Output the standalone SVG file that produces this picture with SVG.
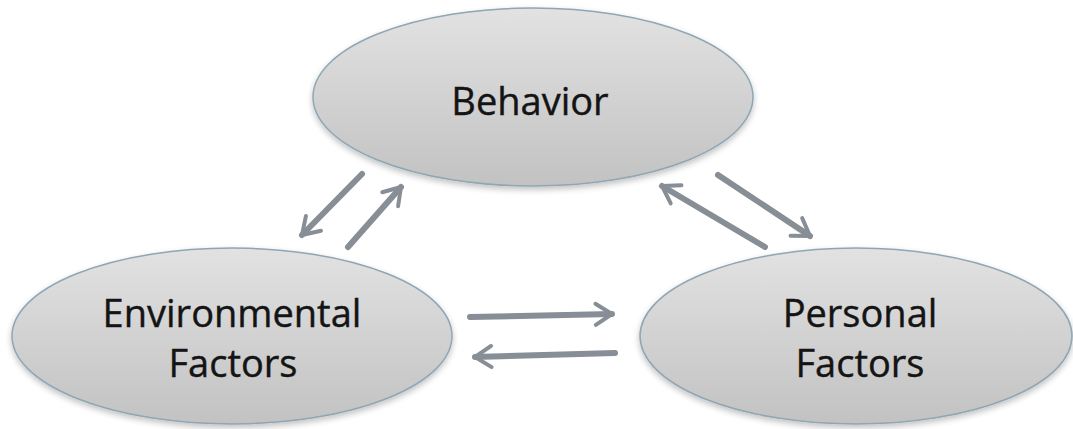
<svg xmlns="http://www.w3.org/2000/svg" width="1073" height="429" viewBox="0 0 1073 429">
  <style>
    .node { fill: url(#oval); stroke: #8fa6b4; stroke-width: 1.5; filter: url(#shade); }
    .label { font-family: "Open Sans", "Noto Sans", sans-serif; font-size: 38px; fill: #141414; text-anchor: middle; stroke: #141414; stroke-width: 0.4; }
    .link { stroke: #878e95; stroke-width: 6; fill: none; stroke-linecap: round; marker-end: url(#head); }
  </style>
  <defs>
    <linearGradient id="oval" x1="0" y1="0" x2="0" y2="1">
      <stop offset="0" stop-color="#e2e2e2"/>
      <stop offset="1" stop-color="#c2c2c2"/>
    </linearGradient>
    <filter id="shade" x="-10%" y="-10%" width="120%" height="130%">
      <feGaussianBlur in="SourceAlpha" stdDeviation="3"/>
      <feOffset dy="3" result="b"/>
      <feComponentTransfer><feFuncA type="linear" slope="0.25"/></feComponentTransfer>
      <feMerge><feMergeNode/><feMergeNode in="SourceGraphic"/></feMerge>
    </filter>
    <!-- open chevron head, sized in stroke widths -->
    <marker id="head" viewBox="0 0 10 10" refX="8" refY="5" markerWidth="4.4" markerHeight="4.4" orient="auto" markerUnits="strokeWidth">
      <path d="M1.8,1 L8,5 L1.8,9" fill="none" stroke="#878e95" stroke-width="1.5" stroke-linecap="round" stroke-linejoin="round"/>
    </marker>
  </defs>

  <g id="connectors">
    <line class="link" x1="362" y1="174" x2="302" y2="235"/>
    <line class="link" x1="348" y1="247" x2="401" y2="187"/>
    <line class="link" x1="765" y1="247" x2="662" y2="186"/>
    <line class="link" x1="718" y1="175" x2="810" y2="236"/>
    <line class="link" x1="470" y1="317" x2="612" y2="314"/>
    <line class="link" x1="615" y1="353" x2="475" y2="357"/>
  </g>

  <g id="behavior">
    <ellipse class="node" cx="533" cy="97" rx="220" ry="89"/>
    <text class="label" x="530" y="115">Behavior</text>
  </g>

  <g id="environmental-factors">
    <ellipse class="node" cx="232" cy="336" rx="220" ry="88"/>
    <text class="label" x="232" y="327">Environmental</text>
    <text class="label" x="233" y="377">Factors</text>
  </g>

  <g id="personal-factors">
    <ellipse class="node" cx="856" cy="336" rx="216" ry="88"/>
    <text class="label" x="860" y="327">Personal</text>
    <text class="label" x="860" y="377">Factors</text>
  </g>
</svg>
